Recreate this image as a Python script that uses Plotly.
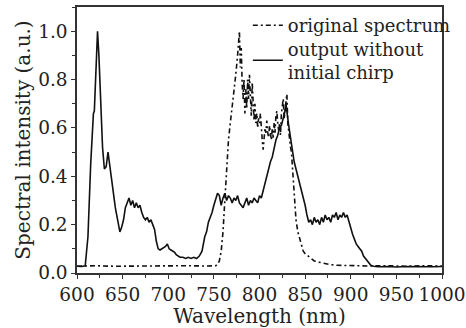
import plotly.graph_objects as go

# Output without initial chirp (solid)
out_x = [600, 605, 609, 612, 615, 618, 619, 621, 622.5, 624, 626, 628, 630, 632, 634, 636, 638, 640, 642, 644,
         646, 647, 649, 651, 653, 655, 657, 659, 661, 663, 665, 667, 669, 671, 673, 675, 677, 679, 681, 683,
         685, 687, 689, 691, 693, 695, 697, 699, 701, 703, 705, 707, 709, 711, 713, 716, 719, 722, 725, 728,
         731, 734, 737, 740, 742, 744, 746, 748, 750, 752, 754, 756, 758, 760, 762, 764, 766, 768, 770, 772,
         774, 776, 778, 780, 782, 784, 786, 788, 790, 792, 794, 796, 798, 800, 802, 804, 806, 808, 810, 812,
         814, 816, 818, 820, 822, 824, 826, 828, 829, 830, 832, 834, 836, 838, 840, 842, 844, 846, 848, 850,
         852, 854, 856, 858, 860, 862, 864, 866, 868, 870, 872, 874, 876, 878, 880, 882, 884, 886, 888, 890,
         892, 894, 896, 898, 900, 902, 904, 906, 908, 910, 912, 914, 916, 918, 920, 922, 925, 930, 940, 950,
         960, 970, 980, 990, 1000]
out_y = [0.028, 0.027, 0.03, 0.15, 0.45, 0.66, 0.67, 0.88, 1.0, 0.9, 0.7, 0.52, 0.43, 0.44, 0.50, 0.44, 0.38, 0.33, 0.27, 0.23,
         0.19, 0.17, 0.19, 0.22, 0.27, 0.29, 0.31, 0.28, 0.30, 0.27, 0.29, 0.27, 0.28, 0.25, 0.23, 0.22, 0.23, 0.21, 0.22, 0.20,
         0.18, 0.13, 0.10, 0.095, 0.10, 0.105, 0.11, 0.12, 0.10, 0.095, 0.09, 0.085, 0.075, 0.07, 0.065, 0.065, 0.06, 0.065, 0.06, 0.065,
         0.06, 0.07, 0.09, 0.15, 0.17, 0.21, 0.23, 0.25, 0.28, 0.31, 0.33, 0.32, 0.28, 0.31, 0.33, 0.30, 0.32, 0.31, 0.29, 0.31,
         0.30, 0.32, 0.29, 0.28, 0.27, 0.29, 0.31, 0.28, 0.30, 0.29, 0.31, 0.30, 0.29, 0.32, 0.31, 0.34, 0.37, 0.41, 0.44, 0.46,
         0.48, 0.52, 0.55, 0.57, 0.60, 0.61, 0.64, 0.67, 0.70, 0.66, 0.61, 0.56, 0.50, 0.46, 0.43, 0.40, 0.38, 0.35, 0.31, 0.28,
         0.24, 0.21, 0.22, 0.20, 0.23, 0.21, 0.22, 0.20, 0.23, 0.21, 0.24, 0.22, 0.23, 0.21, 0.24, 0.23, 0.25, 0.22, 0.24, 0.23,
         0.25, 0.23, 0.24, 0.21, 0.18, 0.16, 0.14, 0.12, 0.11, 0.10, 0.09, 0.07, 0.06, 0.05, 0.04, 0.032, 0.028, 0.026, 0.027, 0.025,
         0.027, 0.026, 0.028, 0.026, 0.027]

# Original spectrum (dash-dot)
orig_x = [600, 620, 640, 660, 680, 700, 720, 740, 752, 754, 756, 758, 760, 762, 764, 766, 768, 770, 772, 774,
          776, 777, 778, 779, 780, 781, 782, 783, 784, 785, 786, 787, 788, 789, 790, 791, 792, 793, 794, 795,
          796, 797, 798, 799, 800, 801, 802, 803, 804, 805, 806, 807, 808, 809, 810, 811, 812, 813, 814, 815,
          816, 817, 818, 819, 820, 821, 822, 823, 824, 825, 826, 827, 828, 829, 830, 831, 832, 833, 834, 835,
          836, 837, 838, 839, 840, 842, 844, 846, 848, 850, 853, 856, 860, 865, 870, 877, 885, 900, 920, 940,
          960, 980, 1000]
orig_y = [0.028, 0.03, 0.028, 0.029, 0.03, 0.028, 0.03, 0.029, 0.03, 0.035, 0.05, 0.09, 0.17, 0.30, 0.42, 0.55, 0.62, 0.68, 0.74, 0.82,
          0.90, 0.95, 1.00, 0.85, 0.93, 0.78, 0.72, 0.80, 0.66, 0.76, 0.68, 0.80, 0.72, 0.82, 0.70, 0.65, 0.79, 0.67, 0.63, 0.70,
          0.62, 0.66, 0.60, 0.64, 0.62, 0.66, 0.58, 0.55, 0.51, 0.56, 0.60, 0.58, 0.63, 0.58, 0.56, 0.61, 0.57, 0.55, 0.60, 0.56,
          0.62, 0.58, 0.65, 0.67, 0.62, 0.59, 0.62, 0.57, 0.66, 0.70, 0.72, 0.64, 0.68, 0.71, 0.74, 0.62, 0.58, 0.55, 0.52, 0.50,
          0.45, 0.41, 0.32, 0.27, 0.22, 0.17, 0.14, 0.11, 0.09, 0.08, 0.07, 0.06, 0.05, 0.045, 0.04, 0.035, 0.032, 0.03, 0.029, 0.03,
          0.028, 0.03, 0.029]

x_ticks = [600, 650, 700, 750, 800, 850, 900, 950, 1000]
y_ticks = [0, 0.2, 0.4, 0.6, 0.8, 1.0]

FONT = "DejaVu Serif"

fig = go.Figure()
fig.add_trace(go.Scatter(x=orig_x, y=orig_y, mode="lines", name="original spectrum", legend="legend",
                         line=dict(color="#111", width=1.6, dash="5px,3px,2px,3px")))
fig.add_trace(go.Scatter(x=out_x, y=out_y, mode="lines", name="output without<br>initial chirp", legend="legend2",
                         line=dict(color="#111", width=1.6)))

axis_common = dict(showline=True, linecolor="#333", linewidth=1.5, mirror=True, showgrid=False,
                   zeroline=False, ticks="outside", ticklen=4, tickcolor="#333", tickwidth=1.2,
                   ticklabeloverflow="allow", tickangle=0, automargin=False,
                   tickfont=dict(family=FONT, size=18.5, color="#222"))

fig.update_xaxes(range=[600, 1000], tickvals=x_ticks, ticklabelstandoff=0,
                 minor=dict(ticks="outside", ticklen=3, dtick=25, tickcolor="#333"),
                 title=dict(text="Wavelength (nm)", font=dict(family=FONT, size=20, color="#222"), standoff=2),
                 **axis_common)
fig.update_yaxes(range=[0, 1.1], tickvals=y_ticks, tickformat=".1f",
                 minor=dict(ticks="outside", ticklen=3, dtick=0.1, tickcolor="#333"),
                 title=dict(text="Spectral intensity (a.u.)", font=dict(family=FONT, size=20, color="#222"), standoff=2),
                 **axis_common)

leg_common = dict(xanchor="left", yanchor="top", bgcolor="rgba(0,0,0,0)",
                  font=dict(family=FONT, size=18, color="#222"), itemwidth=30)
fig.update_layout(
    width=466, height=328,
    margin=dict(l=77, r=24, t=7, b=55),
    paper_bgcolor="white", plot_bgcolor="white",
    legend=dict(x=0.468, y=1.0, **leg_common),
    legend2=dict(x=0.468, y=0.912, **leg_common),
    showlegend=True,
)

fig.write_html("out.html")
